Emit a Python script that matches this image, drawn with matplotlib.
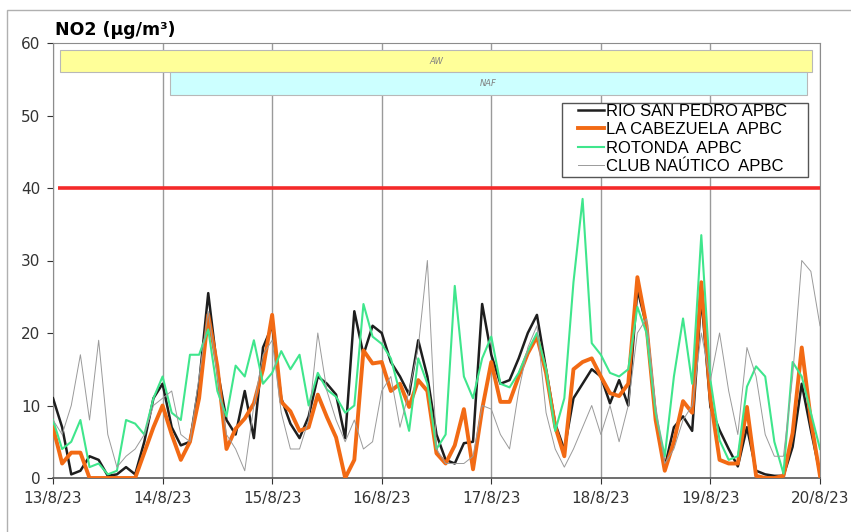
import numpy as np
import matplotlib
matplotlib.use('Agg')
import matplotlib.pyplot as plt
from matplotlib.patches import Rectangle

# horas desde 13/8/23 00:00, datos cada 2 h
hours = np.arange(0, 169, 2)

rio_san_pedro = [11, 7, 0.5, 1, 3, 2.5, 0.3, 0.5, 1.5, 0.5, 5, 11, 13,
                 7, 4.5, 5, 13, 25.5, 15, 8, 6, 12, 5.5, 18, 21,
                 11, 7.5, 5.5, 8.5, 14, 13, 11.5, 5.5, 23, 17, 21, 20,
                 16, 14, 11.5, 19, 14, 6, 2.5, 2, 4.8, 5, 24, 17,
                 13, 13.5, 16.5, 20, 22.5, 15, 7.5, 3.9, 11, 13, 15, 14,
                 10.3, 13.5, 10, 26, 21, 8.4, 1.5, 7, 8.5, 6.5, 25, 9.8,
                 6.6, 4, 1.6, 7, 1, 0.5, 0.3, 0.3, 4.3, 13, 6.6, 0.6]

la_cabezuela = [7, 2, 3.5, 3.5, 0, 0, 0, 0, 0, 0, 3.5, 7, 10,
                6, 2.5, 5, 11, 22.5, 15.4, 4, 6.8, 8.2, 10.3, 15, 22.5,
                10.5, 9.2, 6.5, 7, 11.5, 8.4, 5.6, 0, 2.5, 17.6, 15.8, 16,
                12, 13, 9.8, 13.5, 12, 3.4, 2, 4.5, 9.5, 1.2, 9.5, 16,
                10.5, 10.5, 14, 17.2, 19.5, 14.5, 7.1, 3, 15, 16, 16.5, 14,
                11.7, 11.3, 13, 27.7, 21, 8, 1, 5, 10.6, 9, 27, 11,
                2.5, 2, 2, 9.8, 0.3, 0, 0, 0.3, 6.2, 18, 8, 0.3]

rotonda = [8, 4, 5, 8, 1.5, 2, 0.5, 1, 8, 7.5, 6, 11, 14,
           9, 8, 17, 17, 20.5, 12, 8.5, 15.5, 14, 19, 13, 14.5,
           17.5, 15, 17, 10, 14.5, 12.2, 11.2, 9, 10, 24, 19.5, 18.5,
           16.5, 11.7, 6.5, 16.5, 13, 4, 6, 26.5, 14, 11, 16.5, 19.5,
           13, 12.5, 14.5, 17.5, 20, 15, 6.5, 11, 27, 38.5, 18.6, 17,
           14.5, 14, 15, 23.6, 20, 9, 3, 14, 22, 13, 33.5, 13.5,
           5.2, 2.5, 3, 12.6, 15.4, 14, 5, 0.6, 16, 14, 9, 4]

club_nautico = [8, 6, 10, 17, 8, 19, 6, 1.5, 3, 4, 6, 10, 11,
                12, 6, 5, 14, 23, 14, 6, 4, 1, 10, 17, 19,
                9, 4, 4, 8, 20, 12, 8, 5, 8, 4, 5, 12,
                14, 7, 12, 18, 30, 4, 2, 2, 2, 3, 10, 9.5,
                6, 4, 12, 18, 21, 9, 4, 1.5, 4, 7, 10, 6,
                10, 5, 10, 20, 22, 10, 2, 4, 8, 10, 20, 13.5,
                20, 12, 6, 18, 14, 6, 3, 3, 14, 30, 28.5, 21]

day_ticks = np.arange(0, 169, 24)
day_labels = ['13/8/23', '14/8/23', '15/8/23', '16/8/23',
              '17/8/23', '18/8/23', '19/8/23', '20/8/23']

# periodos de la parte superior (horas)
period_labels = ['AW', 'NAF']
period_start = [1.5, 25.6]
period_end = [166.3, 165.1]
period_low = [56.0, 52.8]
period_high = [59.0, 56.0]
period_colors = ['#ffff99', '#ccffff']

limit_value = 40
limit_start = 1.1

fig = plt.figure(figsize=(8.51, 5.32), dpi=100)
fig.set_facecolor('white')
ax = fig.add_axes([53 / 851, 1 - 478 / 532, (820 - 53) / 851, (478 - 43) / 532])

for lab, x0, x1, y0, y1, c in zip(period_labels, period_start, period_end,
                                  period_low, period_high, period_colors):
    ax.add_patch(Rectangle((x0, y0), x1 - x0, y1 - y0, facecolor=c,
                           edgecolor='#b8b8b8', lw=0.8, zorder=2))
    ax.text((x0 + x1) / 2, (y0 + y1) / 2, lab, ha='center', va='center',
            fontsize=6, style='italic', color='#808080', zorder=3)

ax.hlines(limit_value, limit_start, hours[-1], color='#f42a2a', lw=2.6, zorder=3)

ax.plot(hours, rio_san_pedro, color='#1e1e1e', lw=1.8, label='RIO SAN PEDRO APBC', zorder=4)
ax.plot(hours, la_cabezuela, color='#f26a14', lw=2.8, label='LA CABEZUELA  APBC', zorder=5)
ax.plot(hours, rotonda, color='#3fe68c', lw=1.5, label='ROTONDA  APBC', zorder=6)
ax.plot(hours, club_nautico, color='#9a9a9a', lw=0.7, label='CLUB NAÚTICO  APBC', zorder=7)

ax.set_xlim(0, 168)
ax.set_ylim(0, 60)
ax.set_xticks(day_ticks)
ax.set_xticklabels(day_labels)
ax.set_yticks(np.arange(0, 61, 10))
ax.grid(axis='x', color='#9a9a9a', lw=1)
ax.set_axisbelow(True)
ax.tick_params(axis='both', labelsize=11, colors='#333333', length=4, width=0.8)
ax.tick_params(axis='x', pad=5)
ax.tick_params(axis='y', pad=5)

for side in ['top', 'right', 'left']:
    ax.spines[side].set_color('#8c8c8c')
ax.spines['bottom'].set_color('#555555')
ax.spines['bottom'].set_linewidth(1.2)

fig.text(55 / 851, 1 - 30 / 532, 'NO2 (µg/m³)', fontsize=12.5, fontweight='bold',
         va='center', ha='left')

# leyenda sin marco; el recuadro se dibuja aparte
leg = ax.legend(loc='upper left', bbox_to_anchor=(578 / 851, 1 - 104 / 532),
                bbox_transform=fig.transFigure, prop={'family': 'Liberation Sans', 'size': 12},
                frameon=False, handlelength=1.55, handletextpad=0.12, borderpad=0,
                labelspacing=0.2, borderaxespad=0)
leg.set_zorder(9)
ax.add_patch(Rectangle((562 / 851, 1 - 177 / 532), (808 - 562) / 851, 74 / 532,
                       transform=fig.transFigure, facecolor='white',
                       edgecolor='#555555', lw=1, zorder=8))

# marco exterior
fig.add_artist(Rectangle((7 / 851, -0.05), 1.0, 1 - 10 / 532 + 0.05,
                         transform=fig.transFigure, fill=False,
                         edgecolor='#b0b0b0', lw=1))

fig.savefig('out.png', dpi=100, facecolor='white')
